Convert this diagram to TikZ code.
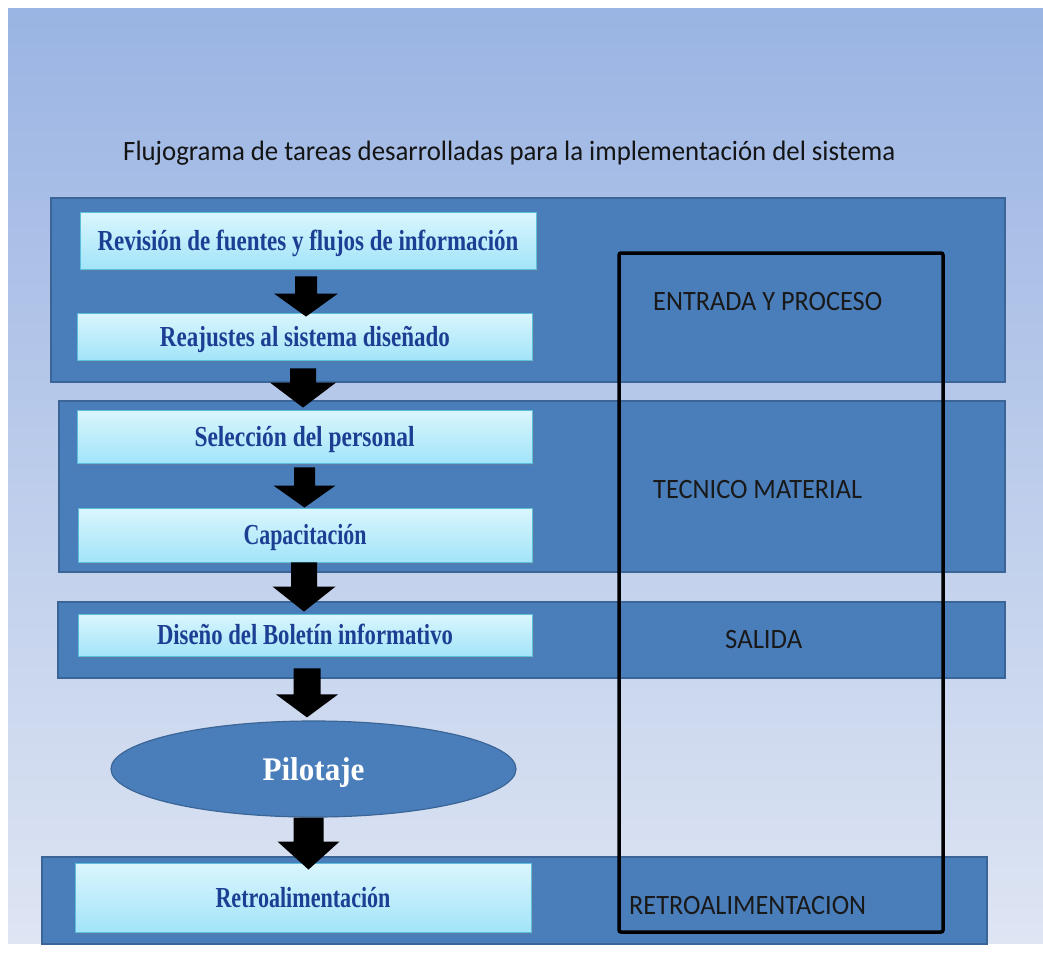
\documentclass[tikz,border=0pt]{standalone}
\usepackage{fontspec}
\setmainfont{Liberation Serif}
\newfontfamily\calfont{Carlito}
\usetikzlibrary{shapes.geometric,shadows,calc}
\definecolor{bgtop}{HTML}{9AB4E3}
\definecolor{bgmid}{HTML}{BCCCEA}
\definecolor{bgbot}{HTML}{DEE5F3}
\definecolor{panelfill}{HTML}{4A7EBB}
\definecolor{panelline}{HTML}{3B6596}
\definecolor{boxtop}{HTML}{DAF6FD}
\definecolor{boxbot}{HTML}{A2E4F9}
\definecolor{boxline}{HTML}{5CBEDD}
\definecolor{txtblue}{HTML}{1C3F94}
\newcommand\fitw[2]{\resizebox{#1}{\height}{#2}}
% block arrow: from, to, gap, shaft half, head half, head length, tip overshoot
\newcommand\blockarr[7]{%
  \fill[black] let \p1=(#1), \p2=(#2) in
  (\x1-#4,\y1-#3) -- (\x1+#4,\y1-#3) -- (\x1+#4,\y2+#6-#7) -- (\x1+#5,\y2+#6-#7)
  -- (\x1,\y2-#7) -- (\x1-#5,\y2+#6-#7) -- (\x1-#4,\y2+#6-#7) -- cycle;}
\tikzset{
  panelbox/.style={draw=panelline, line width=1.2pt, fill=panelfill, inner sep=0pt},
  stepbox/.style={draw=boxline, line width=0.9pt, top color=boxtop, bottom color=boxbot,
    drop shadow={shadow xshift=1.5pt, shadow yshift=-2pt, opacity=0.35},
    text=txtblue, font=\bfseries\fontsize{29}{32}\selectfont,
    text height=19pt, text depth=0pt, inner sep=0pt},
  sidelabel/.style={anchor=base west, inner sep=0pt, text=black!90,
    font=\calfont\fontsize{28}{30}\selectfont},
}
\begin{document}
\begin{tikzpicture}[x=1pt,y=-1pt]
\useasboundingbox (0,0) rectangle (1043,956);
\fill[white] (0,0) rectangle (1043,956);
\shade[top color=bgtop, middle color=bgmid, bottom color=bgbot] (8,8) rectangle (1043,943);

% title
\node[anchor=base west, inner sep=0pt, text=black!92, font=\calfont\fontsize{28}{30}\selectfont] (title) at (123,160)
  {\fitw{772pt}{Flujograma de tareas desarrolladas para la implementación del sistema}};

% panels
\node[panelbox, minimum width=954pt, minimum height=184pt] (p1) at (528,290) {};
\node[panelbox, minimum width=946pt, minimum height=171pt] (p2) at (532,486.5) {};
\node[panelbox, minimum width=947pt, minimum height=76pt] (p3) at (531.5,640) {};
\node[panelbox, minimum width=945pt, minimum height=87pt] (p4) at (514.5,900.5) {};

% frame
\node[draw=black, line width=3.5pt, rounded corners=2pt, minimum width=324pt, minimum height=679pt, inner sep=0pt] (frame) at (781,592.5) {};

% side labels
\node[sidelabel] (l1) at (653,310) {\fitw{229pt}{ENTRADA Y PROCESO}};
\node[sidelabel] (l2) at (653,498) {\fitw{209pt}{TECNICO MATERIAL}};
\node[sidelabel] (l3) at (725,648) {\fitw{77pt}{SALIDA}};
\node[sidelabel] (l4) at (629,914) {\fitw{237pt}{RETROALIMENTACION}};

% step boxes
\node[stepbox, minimum width=456pt, minimum height=57pt] (b1) at (308,240.5) {\fitw{421pt}{Revisión de fuentes y flujos de información}};
\node[stepbox, minimum width=455pt, minimum height=47pt] (b2) at (305,336.5) {\fitw{290pt}{Reajustes al sistema diseñado}};
\node[stepbox, minimum width=455pt, minimum height=53pt] (b3) at (304.5,436.5) {\fitw{220pt}{Selección del personal}};
\node[stepbox, minimum width=454pt, minimum height=54pt] (b4) at (305,535) {\fitw{123pt}{Capacitación}};
\node[stepbox, minimum width=454pt, minimum height=42pt] (b5) at (305,635) {\fitw{296pt}{Diseño del Boletín informativo}};
\node[ellipse, draw=panelline, line width=1.2pt, fill=panelfill, minimum width=405pt, minimum height=96pt, inner sep=0pt,
  text=white, font=\bfseries\fontsize{33}{36}\selectfont, text height=22pt, text depth=0pt] (pil) at (313.5,769) {\fitw{102pt}{Pilotaje}};
\node[stepbox, minimum width=456pt, minimum height=69pt] (b6) at (303,897.5) {\fitw{175pt}{Retroalimentación}};

% connectors
\blockarr{$(b1.south)+(-2,0)$}{b2.north}{7pt}{11pt}{32pt}{23pt}{4pt}
\blockarr{$(b2.south)+(-2,0)$}{b3.north}{8pt}{13pt}{33pt}{25pt}{-2pt}
\blockarr{b3.south}{b4.north}{4pt}{10.5pt}{31pt}{22pt}{0pt}
\blockarr{$(b4.south)+(-1,0)$}{b5.north}{0pt}{13pt}{31.5pt}{25pt}{-2pt}
\blockarr{$(b5.south)+(2,0)$}{pil.north}{12pt}{13.5pt}{31pt}{23pt}{-3pt}
\blockarr{$(pil.south)+(-5,0)$}{b6.north}{0pt}{15pt}{31pt}{28pt}{7pt}
\end{tikzpicture}
\end{document}
